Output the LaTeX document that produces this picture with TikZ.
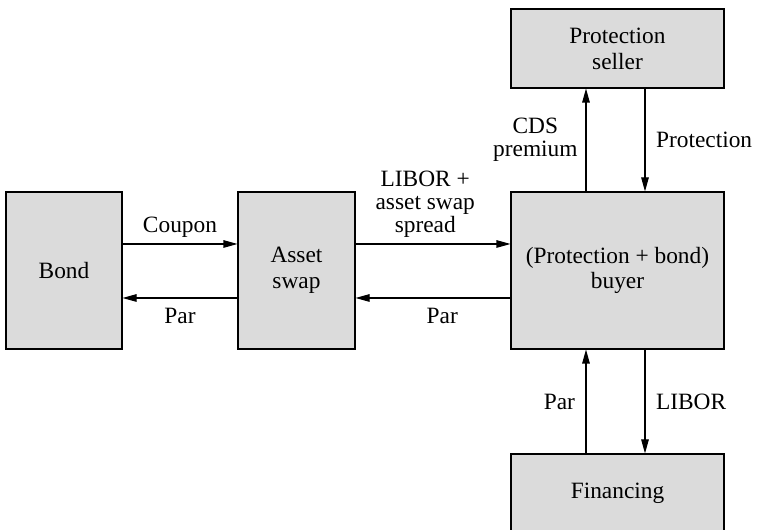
\documentclass[tikz,border=0pt]{standalone}
\usepackage{fontspec}
\setmainfont{Liberation Serif}
\usetikzlibrary{arrows.meta,positioning,calc}

\begin{document}
\begin{tikzpicture}[
		box/.style={draw, line width=0.6pt, fill=black!14, align=center, inner sep=0pt,
			font=\fontsize{13.3}{14.7}\selectfont},
		flow/.style={-{Triangle[length=0.28cm,width=0.15cm]}, line width=0.6pt},
		lbl/.style={align=center, font=\fontsize{13.3}{13}\selectfont}
	]
		\useasboundingbox (0,0) rectangle (15.14,10.6);
		\clip (0,0) rectangle (15.14,10.6);

		% Boxes
		\node[box, minimum width=2.32cm, minimum height=3.14cm] (bond) at (1.28,5.19) {Bond};
		\node[box, minimum width=2.34cm, minimum height=3.14cm] (swap) at (5.93,5.19) {Asset\\swap};
		\node[box, minimum width=4.26cm, minimum height=3.14cm] (buyer) at (12.35,5.19) {(Protection + bond)\\buyer};
		\node[box, minimum width=4.26cm, minimum height=1.58cm] (seller) at (12.35,9.63) {Protection\\seller};
		\node[box, minimum width=4.26cm, minimum height=1.58cm] (fin) at (12.35,0.73) {Financing};

		% Horizontal flows
		\draw[flow] ([yshift=0.53cm]bond.east) -- node[lbl, above, inner sep=3.5pt] {Coupon} ([yshift=0.53cm]swap.west);
		\draw[flow] ([yshift=-0.55cm]swap.west) -- node[lbl, below, inner sep=5.5pt] {Par} ([yshift=-0.55cm]bond.east);
		\draw[flow] ([yshift=0.53cm]swap.east) -- node[lbl, above, inner sep=3.5pt, pos=0.45] {LIBOR +\\asset swap\\spread} ([yshift=0.53cm]buyer.west);
		\draw[flow] ([yshift=-0.55cm]buyer.west) -- node[lbl, below, inner sep=5.5pt, pos=0.44] {Par} ([yshift=-0.55cm]swap.east);

		% Vertical flows
		\draw[flow] ([xshift=-0.63cm]buyer.north) -- node[lbl, left, inner sep=4.5pt] {CDS\\premium} ([xshift=-0.63cm]seller.south);
		\draw[flow] ([xshift=0.55cm]seller.south) -- node[lbl, right, inner sep=6pt] {Protection} ([xshift=0.55cm]buyer.north);
		\draw[flow] ([xshift=-0.63cm]fin.north) -- node[lbl, left, inner sep=6pt] {Par} ([xshift=-0.63cm]buyer.south);
		\draw[flow] ([xshift=0.55cm]buyer.south) -- node[lbl, right, inner sep=6pt] {LIBOR} ([xshift=0.55cm]fin.north);
	\end{tikzpicture}
\end{document}
